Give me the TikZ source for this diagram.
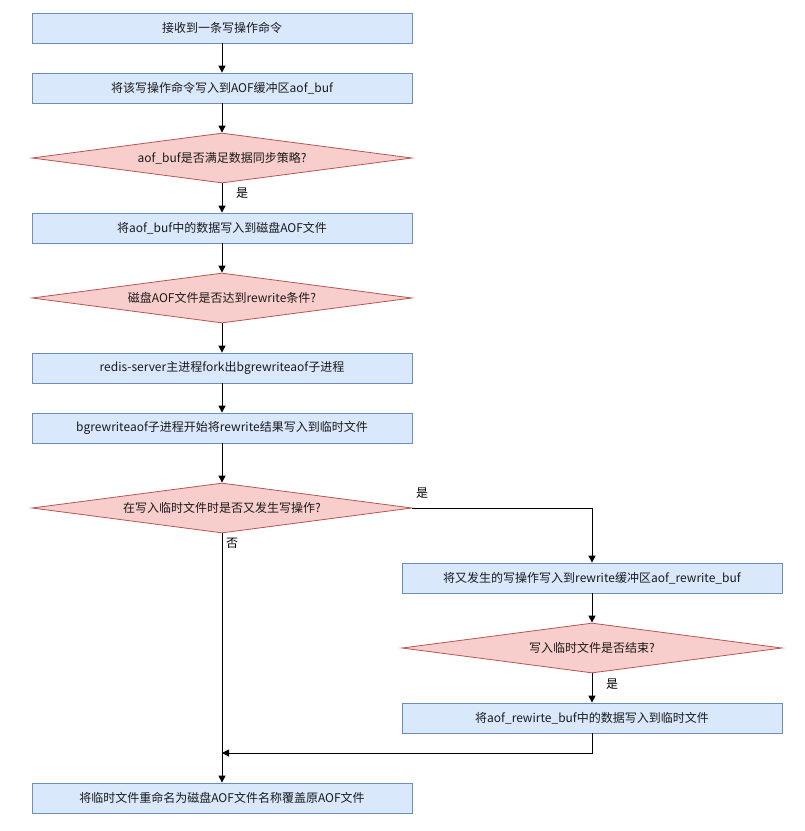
\documentclass[tikz,border=0pt]{standalone}
\usepackage{fontspec}
\setmainfont{Noto Sans CJK SC}
\usetikzlibrary{shapes.geometric,arrows.meta}
\definecolor{boxfill}{HTML}{DAE8FC}
\definecolor{boxline}{HTML}{6C8EBF}
\definecolor{decfill}{HTML}{F8CECC}
\definecolor{decline}{HTML}{B85450}
\definecolor{txt}{HTML}{1A1A1A}
\begin{document}
\begin{tikzpicture}[x=1pt,y=-1pt,
  box/.style={draw=boxline, fill=boxfill, minimum width=380pt, minimum height=30pt, inner sep=0pt, line width=0.8pt, text=txt, font=\fontsize{12pt}{14pt}\selectfont},
  dec/.style={diamond, aspect=7.6, draw=decline, fill=decfill, minimum width=380pt, minimum height=50pt, inner sep=0pt, line width=0.8pt, text=txt, font=\fontsize{12pt}{14pt}\selectfont},
  arr/.style={-{Triangle[length=7pt,width=7pt]}, line width=1pt, black},
  lab/.style={inner sep=0pt, text=black, font=\fontsize{12pt}{14pt}\selectfont}]
\useasboundingbox (0,0) rectangle (805,831);
\node[box] (b1) at (222,28) {接收到一条写操作命令};
\node[box] (b2) at (222,88) {将该写操作命令写入到AOF缓冲区aof\_buf};
\node[dec] (d1) at (222,158) {aof\_buf是否满足数据同步策略?};
\node[box] (b3) at (222,228) {将aof\_buf中的数据写入到磁盘AOF文件};
\node[dec] (d2) at (222,298) {磁盘AOF文件是否达到rewrite条件?};
\node[box] (b4) at (222,368) {redis-server主进程fork出bgrewriteaof子进程};
\node[box] (b5) at (222,428) {bgrewriteaof子进程开始将rewrite结果写入到临时文件};
\node[dec] (d3) at (222,508) {在写入临时文件时是否又发生写操作?};
\node[box] (b6) at (592,578) {将又发生的写操作写入到rewrite缓冲区aof\_rewrite\_buf};
\node[dec] (d4) at (592,648) {写入临时文件是否结束?};
\node[box] (b7) at (592,718) {将aof\_rewirte\_buf中的数据写入到临时文件};
\node[box] (bf) at (222,798) {将临时文件重命名为磁盘AOF文件名称覆盖原AOF文件};
\coordinate (m) at (222,753);
\draw[arr] (b1) -- (b2);
\draw[arr] (b2) -- (d1);
\draw[arr] (d1) -- (b3);
\draw[arr] (b3) -- (d2);
\draw[arr] (d2) -- (b4);
\draw[arr] (b4) -- (b5);
\draw[arr] (b5) -- (d3);
\draw[arr] (d3.east) -| (b6.north);
\draw[arr] (b6) -- (d4);
\draw[arr] (d4) -- (b7);
\draw[arr] (d3.south) -- (bf.north);
\draw[arr] (b7.south) |- (m);
\node[lab] (l1) at (242,193) {是};
\node[lab] (l2) at (422,493) {是};
\node[lab] (l3) at (232,543) {否};
\node[lab] (l4) at (612,684) {是};
\end{tikzpicture}
\end{document}
